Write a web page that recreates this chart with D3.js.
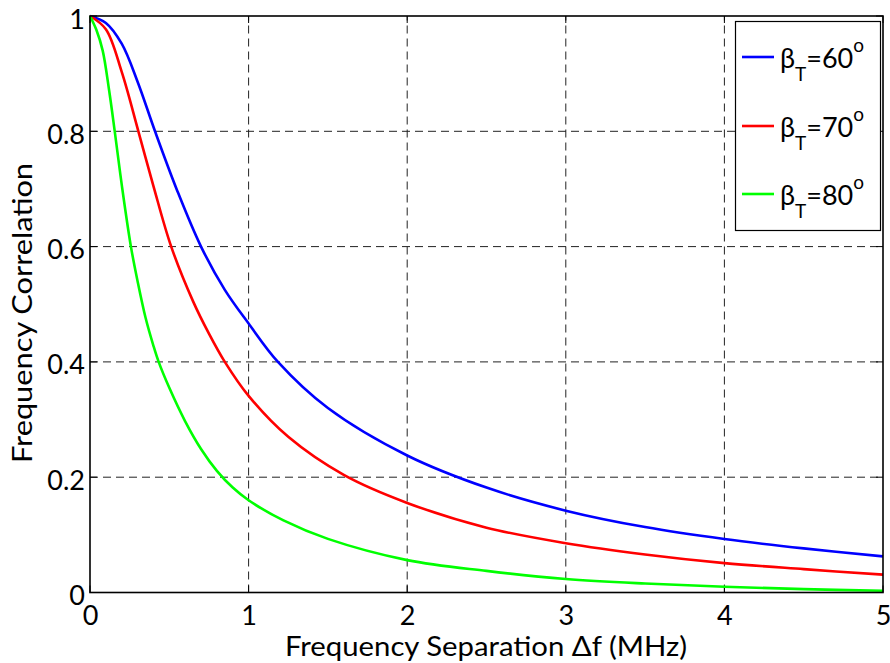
<!DOCTYPE html>
<html>
<head>
<meta charset="utf-8">
<script src="https://cdn.jsdelivr.net/npm/d3@7"></script>
<style>
  body { margin: 0; background: #fff; }
  svg { display: block; }
  text { font-family: Lato, "Open Sans", sans-serif; fill: #000; }
</style>
</head>
<body>
<svg id="chart" width="890" height="663"></svg>
<script>
// Frequency separation (MHz) and correlation samples for each beamwidth
const freq60 = [0, 0.1, 0.2, 0.3, 0.41, 0.55, 0.70, 0.85, 1.0, 1.185, 1.5, 2.0, 2.5, 3.0, 3.5, 4.0, 4.5, 5.0];
const corr60 = [1.0, 0.988, 0.952, 0.886, 0.800, 0.697, 0.600, 0.525, 0.4666, 0.400, 0.320, 0.2377, 0.182, 0.142, 0.1135, 0.0927, 0.0765, 0.0626];

const freq70 = [0, 0.1, 0.2, 0.305, 0.4, 0.512, 0.65, 0.75, 0.85, 1.0, 1.25, 1.6, 2.0, 2.5, 3.0, 3.5, 4.0, 4.5, 5.0];
const corr70 = [1.0, 0.977, 0.903, 0.800, 0.705, 0.600, 0.505, 0.449, 0.400, 0.341, 0.270, 0.204, 0.1554, 0.1125, 0.0855, 0.066, 0.051, 0.0405, 0.031];

const freq80 = [0, 0.04, 0.08, 0.12, 0.156, 0.202, 0.258, 0.3, 0.35, 0.4, 0.433, 0.5, 0.6, 0.7, 0.8, 0.9, 1.0, 1.22, 1.5, 2.0, 2.5, 3.0, 3.5, 4.0, 4.5, 5.0];
const corr80 = [1.0, 0.976, 0.940, 0.872, 0.800, 0.7036, 0.600, 0.540, 0.477, 0.428, 0.400, 0.355, 0.297, 0.249, 0.211, 0.182, 0.160, 0.125, 0.093, 0.0562, 0.0375, 0.0235, 0.0155, 0.0099, 0.0058, 0.003];

const seriesAngles = ["60", "70", "80"];
const seriesColors = ["#0000ff", "#ff0000", "#00ff00"];
const xTicks = [0, 1, 2, 3, 4, 5];
const yTicks = [0, 0.2, 0.4, 0.6, 0.8, 1];
const yTickLabels = ["0", "0.2", "0.4", "0.6", "0.8", "1"];
const xTitle = "Frequency Separation \u0394f (MHz)";
const yTitle = "Frequency Correlation";

const series = [[freq60, corr60], [freq70, corr70], [freq80, corr80]].map(([fs, cs], i) => ({
  angle: seriesAngles[i],
  color: seriesColors[i],
  points: fs.map((f, j) => [f, cs[j]])
}));

const svg = d3.select("#chart");
const plot = { left: 90, right: 883, top: 16, bottom: 592.5 };

const x = d3.scaleLinear().domain([0, 5]).range([plot.left, plot.right]);
const y = d3.scaleLinear().domain([0, 1]).range([plot.bottom, plot.top]);

svg.append("rect").attr("width", 890).attr("height", 663).attr("fill", "#fff");

// dashed grid
const grid = svg.append("g").attr("stroke", "#222").attr("stroke-width", 1)
  .attr("stroke-dasharray", "8,5").attr("fill", "none");
grid.selectAll(".gx").data(xTicks.slice(1, -1)).join("line")
  .attr("x1", d => x(d)).attr("x2", d => x(d))
  .attr("y1", plot.bottom).attr("y2", plot.top);
grid.selectAll(".gy").data(yTicks.slice(1, -1)).join("line")
  .attr("y1", d => y(d)).attr("y2", d => y(d))
  .attr("x1", plot.left).attr("x2", plot.right);

// inward tick marks on all four sides
const tickLen = 7;
const ticks = svg.append("g").attr("stroke", "#000").attr("stroke-width", 1);
xTicks.forEach(v => {
  ticks.append("line").attr("x1", x(v)).attr("x2", x(v)).attr("y1", plot.bottom).attr("y2", plot.bottom - tickLen);
  ticks.append("line").attr("x1", x(v)).attr("x2", x(v)).attr("y1", plot.top).attr("y2", plot.top + tickLen);
});
yTicks.forEach(v => {
  ticks.append("line").attr("y1", y(v)).attr("y2", y(v)).attr("x1", plot.left).attr("x2", plot.left + tickLen);
  ticks.append("line").attr("y1", y(v)).attr("y2", y(v)).attr("x1", plot.right).attr("x2", plot.right - tickLen);
});

// curves
const line = d3.line().x(d => x(d[0])).y(d => y(d[1])).curve(d3.curveCatmullRom.alpha(0.5));
svg.append("g").selectAll("path").data(series).join("path")
  .attr("d", d => line(d.points))
  .attr("fill", "none")
  .attr("stroke", d => d.color)
  .attr("stroke-width", 2.6)
  .attr("stroke-linejoin", "round");

// axes frame
svg.append("rect")
  .attr("x", plot.left).attr("y", plot.top)
  .attr("width", plot.right - plot.left).attr("height", plot.bottom - plot.top)
  .attr("fill", "none").attr("stroke", "#000").attr("stroke-width", 1.6);

// tick labels through d3 axes
const xAxis = d3.axisBottom(x).tickValues(xTicks).tickFormat(d3.format("d")).tickSize(0);
const gx = svg.append("g").attr("transform", `translate(0,${plot.bottom})`).call(xAxis);
gx.select(".domain").remove();
gx.selectAll("text").attr("dy", null).attr("y", 32)
  .style("font-size", "27px").style("font-family", "Lato, sans-serif");

const yAxis = d3.axisLeft(y).tickValues(yTicks).tickFormat((d, i) => yTickLabels[i]).tickSize(0);
const gy = svg.append("g").attr("transform", `translate(${plot.left},0)`).call(yAxis);
gy.select(".domain").remove();
gy.selectAll("text").attr("dy", null).attr("x", -5).attr("y", 12)
  .style("font-size", "27px").style("font-family", "Lato, sans-serif");

// axis titles
svg.append("text")
  .attr("x", 486).attr("y", 656)
  .attr("text-anchor", "middle")
  .attr("textLength", 402).attr("lengthAdjust", "spacingAndGlyphs")
  .style("font-size", "26px")
  .text(xTitle);

svg.append("text")
  .attr("transform", "translate(31.5,313) rotate(-90)")
  .attr("text-anchor", "middle")
  .attr("textLength", 300).attr("lengthAdjust", "spacingAndGlyphs")
  .style("font-size", "27px")
  .text(yTitle);

// legend
const legend = svg.append("g");
legend.append("rect")
  .attr("x", 735.5).attr("y", 21.5).attr("width", 145).attr("height", 209)
  .attr("fill", "#fff").attr("stroke", "#000").attr("stroke-width", 1.2);

const rowY = [57, 126, 194];
series.forEach((s, i) => {
  const ry = rowY[i];
  legend.append("line")
    .attr("x1", 742).attr("x2", 774).attr("y1", ry).attr("y2", ry)
    .attr("stroke", s.color).attr("stroke-width", 2.6);
  const t = legend.append("text").attr("x", 780).attr("y", ry + 11).style("font-size", "27px");
  t.append("tspan").text("\u03b2");
  t.append("tspan").attr("dy", 13).style("font-size", "19px").text("T");
  t.append("tspan").attr("dy", -13).text("=" + s.angle);
  t.append("tspan").attr("dy", -16).style("font-size", "19px").text("o");
});
</script>
</body>
</html>
